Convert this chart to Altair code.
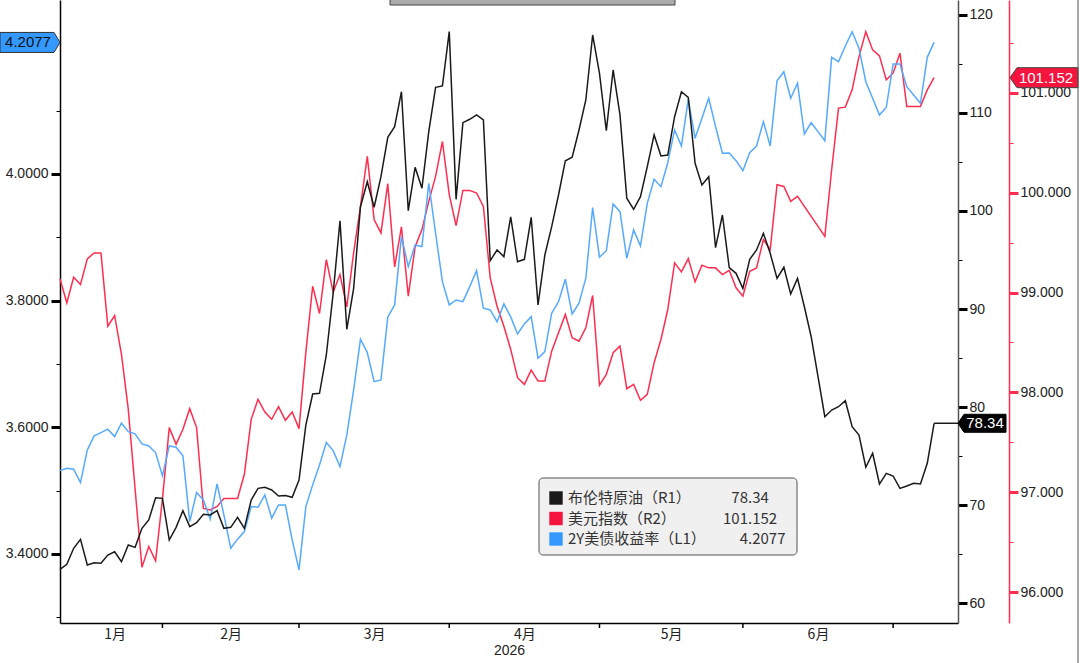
import altair as alt
import pandas as pd

# ---------------- data ----------------
brent = [63.44, 63.95, 65.58, 66.50, 63.88, 64.11, 64.05, 64.90, 65.23, 64.21,
         65.92, 65.68, 67.62, 68.47, 70.74, 70.68, 66.43, 67.72, 69.42, 67.79,
         68.19, 69.05, 68.98, 69.42, 67.62, 67.72, 68.74, 67.62, 70.51, 71.70,
         71.81, 71.53, 70.92, 70.97, 70.79, 72.55, 78.16, 81.33, 81.40, 85.31,
         91.60, 99.01, 87.93, 92.11, 100.44, 102.99, 100.38, 103.50, 107.52, 108.60,
         112.17, 100.03, 104.46, 102.32, 108.09, 112.62, 112.76, 118.30, 101.19, 109.01,
         109.36, 109.80, 109.29, 94.93, 96.02, 95.34, 99.39, 94.83, 95.07, 99.36,
         90.41, 95.51, 98.40, 101.63, 105.13, 105.48, 108.27, 111.33, 117.96, 114.05,
         108.19, 114.39, 109.80, 101.30, 100.17, 101.46, 104.52, 107.76, 105.61, 105.71,
         109.62, 112.17, 111.60, 104.87, 102.65, 103.50, 96.26, 99.59, 94.23, 93.64,
         92.11, 95.07, 96.02, 97.72, 95.68, 93.13, 94.26, 91.53, 93.13, 90.23,
         87.17, 83.09, 79.01, 79.69, 80.03, 80.64, 77.99, 77.14, 73.85, 75.28,
         72.14, 73.23, 72.96, 71.70, 71.94, 72.21, 72.14, 74.26, 78.34]

dxy = [99.137, 98.897, 99.153, 99.080, 99.337, 99.397, 99.397, 98.663, 98.770, 98.380,
       97.830, 97.030, 96.247, 96.457, 96.313, 96.930, 97.647, 97.480, 97.630, 97.837,
       97.647, 96.837, 96.823, 96.857, 96.937, 96.937, 96.937, 97.180, 97.730, 97.930,
       97.803, 97.730, 97.857, 97.720, 97.803, 97.637, 98.400, 99.063, 98.790, 99.330,
       99.003, 99.180, 98.857, 99.400, 99.863, 100.363, 99.730, 99.597, 100.090, 99.257,
       99.657, 98.963, 99.457, 99.630, 99.913, 100.163, 100.513, 99.980, 99.670, 100.023,
       100.023, 99.997, 99.863, 99.147, 98.863, 98.663, 98.430, 98.147, 98.080, 98.223,
       98.113, 98.113, 98.413, 98.597, 98.780, 98.547, 98.513, 98.647, 98.970, 98.073,
       98.180, 98.397, 98.463, 98.037, 98.080, 97.920, 97.980, 98.297, 98.530, 98.830,
       99.297, 99.207, 99.340, 99.107, 99.273, 99.247, 99.247, 99.180, 99.223, 99.047,
       98.963, 99.213, 99.247, 99.530, 99.430, 100.080, 100.063, 99.913, 99.963, 99.863,
       99.763, 99.663, 99.563, 100.230, 100.847, 100.857, 101.030, 101.363, 101.613, 101.430,
       101.370, 101.130, 101.197, 101.397, 100.863, 100.863, 100.863, 101.030, 101.152]

ust2y = [3.5316, 3.5354, 3.5339, 3.5127, 3.5643, 3.5864, 3.5916, 3.5970, 3.5853, 3.6065,
         3.5932, 3.5896, 3.5738, 3.5706, 3.5601, 3.5233, 3.5706, 3.5686, 3.5549, 3.4511,
         3.4969, 3.4854, 3.4549, 3.5107, 3.4617, 3.4092, 3.4234, 3.4354, 3.4748, 3.4739,
         3.4933, 3.4565, 3.4775, 3.4775, 3.4223, 3.3749, 3.4748, 3.5091, 3.5406, 3.5758,
         3.5632, 3.5380, 3.5880, 3.6590, 3.7391, 3.7179, 3.6721, 3.6748, 3.7738, 3.7932,
         3.9010, 3.8537, 3.8879, 3.8852, 3.9853, 3.9064, 3.8300, 3.7932, 3.8011, 3.7984,
         3.8221, 3.8474, 3.7880, 3.7853, 3.7668, 3.7948, 3.7743, 3.7474, 3.7632, 3.7747,
         3.7091, 3.7195, 3.7801, 3.7984, 3.8338, 3.7790, 3.7959, 3.8354, 3.9468, 3.8685,
         3.8789, 3.9526, 3.9405, 3.8669, 3.9116, 3.8863, 3.9537, 3.9916, 3.9800, 4.0178,
         4.0695, 4.0442, 4.1179, 4.0564, 4.0879, 4.1195, 4.0747, 4.0327, 4.0331, 4.0210,
         4.0052, 4.0336, 4.0442, 4.0826, 4.0442, 4.1473, 4.1615, 4.1195, 4.1432, 4.0631,
         4.0810, 4.0668, 4.0526, 4.1842, 4.1773, 4.2021, 4.2246, 4.1984, 4.1457, 4.1195,
         4.0931, 4.1053, 4.1736, 4.1736, 4.1378, 4.1247, 4.1116, 4.1842, 4.2077]

month_names = ["1月", "2月", "3月", "4月", "5月", "6月"]
month_label_at = [8, 25, 46, 68, 89.5, 111]      # trading-day index of label
month_start = [15, 35, 57, 79, 100, 122]          # first trading day of each month
year_label = "2026"

series_names = ["布伦特原油（R1）", "美元指数（R2）", "2Y美债收益率（L1）"]
last_labels = ["78.34", "101.152", "4.2077"]

blue_ticks = [3.3, 3.4, 3.5, 3.6, 3.7, 3.8, 3.9, 4.0, 4.1]
black_ticks = [60, 65, 70, 75, 80, 85, 90, 95, 100, 105, 110, 115, 120]
red_ticks = [96.0, 96.5, 97.0, 97.5, 98.0, 98.5, 99.0, 99.5, 100.0, 100.5, 101.0, 101.5]

# ---------------- styling / layout ----------------
NUM = "Liberation Sans"
CJK = "Noto Sans CJK SC"
W, H = 898, 623
X_MAX = 131.5
BLACK, RED, BLUE = "#1a1a1a", "#ff2d50", "#55aaff"
RED_TAG, BLUE_TAG = "#f5143e", "#3399ff"
TXT = "#222222"

x_scale = alt.Scale(domain=[0, X_MAX], nice=False, zero=False)
label_expr_x = ("[" + ",".join(f"'{m}'" for m in month_names) + "][indexof(["
                + ",".join(str(v) for v in month_label_at) + "], datum.value)]")
x_axis = alt.Axis(values=month_label_at, labelExpr=label_expr_x, ticks=False,
                  domainColor="#000", domainWidth=1.5, labelFont=CJK, labelFontSize=14,
                  labelColor=TXT, labelPadding=4, title=year_label, titleFont=NUM,
                  titleFontSize=14, titleFontWeight="normal", titleColor=TXT,
                  titlePadding=2, grid=False, labelOverlap=False, labelFlush=False)


def X(field):
    return alt.X(field, type="quantitative", scale=x_scale, axis=x_axis)


def cond(test, a, b):
    return {"condition": {"test": test, "value": a}, "value": b}


def make_axis(orient, values, major, fmt, color, domain_color, offset=0, pad=2):
    return alt.Axis(orient=orient, values=values, offset=offset,
                    labelExpr=f"({major}) ? format(datum.value, '{fmt}') : ''",
                    tickSize=cond(major, 9, 4), tickWidth=cond(major, 3, 1),
                    tickColor=color, domainColor=domain_color, domainWidth=1.5,
                    labelFont=NUM, labelFontSize=14, labelColor=TXT, labelPadding=pad,
                    grid=False, title=None, labelOverlap=False, labelFlush=False)


blue_axis = make_axis("left", blue_ticks, "round(datum.value*10) % 2 == 0", ".4f", "#000", "#000", pad=3)
black_axis = make_axis("right", black_ticks, "datum.value % 10 == 0", "d", "#000", "#555")
red_axis = make_axis("right", red_ticks, "datum.value % 1 == 0", ".3f", RED, RED, offset=51)


def Y(domain, axis):
    return alt.Y("v:Q", scale=alt.Scale(domain=domain, nice=False, zero=False), axis=axis)


def group(values, color, y, tag_path, tag_size, tag_x, tag_fill, tag_stroke,
          text_color, label, text_x, extra=None):
    df = pd.DataFrame({"i": list(range(len(values))), "v": values})
    line = alt.Chart(df).mark_line(color=color, strokeWidth=1.5).encode(x=X("i"), y=y)
    last = pd.DataFrame({"v": [values[-1]], "t": [label]})
    tag = alt.Chart(last).mark_point(shape=tag_path, size=tag_size, filled=True,
                                     fill=tag_fill, stroke=tag_stroke, strokeWidth=1,
                                     opacity=1).encode(x=alt.value(tag_x), y=y)
    txt = alt.Chart(last).mark_text(font=NUM, fontSize=15, color=text_color,
                                    align="center", baseline="middle").encode(
        x=alt.value(text_x), y=y, text="t:N")
    layers = [line] + ([extra] if extra is not None else []) + [tag, txt]
    return alt.layer(*layers)


y_black = Y([57.96, 121.53], black_axis)
y_red = Y([95.69, 101.93], red_axis)
y_blue = Y([3.291, 4.2747], blue_axis)

leader_df = pd.DataFrame({"i": [len(brent) - 1], "i2": [X_MAX], "v": [brent[-1]]})
leader = alt.Chart(leader_df).mark_rule(color=BLACK, strokeWidth=1.5).encode(
    x=X("i"), x2="i2", y=y_black)

g_red = group(dxy, RED, y_red,
              "M1,-0.294L-0.794,-0.294L-1,0L-0.794,0.294L1,0.294Z", 4624, 984,
              RED_TAG, "#444", "white", last_labels[1], 986)
g_blue = group(ust2y, BLUE, y_blue,
               "M-1,-0.333L0.8,-0.333L1,0L0.8,0.333L-1,0.333Z", 3600, -30,
               BLUE_TAG, "#333", "#111", last_labels[2], -32)
g_black = group(brent, BLACK, y_black,
                "M1,-0.375L-0.75,-0.375L-1,0L-0.75,0.375L1,0.375Z", 2304, 922,
                "#000", "#000", "white", last_labels[0], 925, extra=leader)

# month boundary ticks
mticks = alt.Chart(pd.DataFrame({"m": month_start})).mark_rule(
    color="#000", strokeWidth=1.5).encode(x=X("m"), y=alt.value(H), y2=alt.value(H + 5))

one = pd.DataFrame({"a": [0]})
deco = []
# legend box
deco.append(alt.Chart(one).mark_rect(fill="#f0f0f0", stroke="#555", strokeWidth=1,
                                     cornerRadius=4).encode(
    x=alt.value(479), x2=alt.value(737), y=alt.value(478), y2=alt.value(555)))
legend_colors = [BLACK, RED_TAG, BLUE_TAG]
for k in range(3):
    yk = 498 + 20.5 * k
    deco.append(alt.Chart(one).mark_square(size=180, color=legend_colors[k], opacity=1)
                .encode(x=alt.value(496), y=alt.value(yk)))
    deco.append(alt.Chart(one).mark_text(text=series_names[k], font=CJK, fontSize=15,
                                         color="#333", align="left", baseline="middle")
                .encode(x=alt.value(508), y=alt.value(yk)))
    ip, fp = last_labels[k].split(".")
    deco.append(alt.Chart(one).mark_text(text=ip, font=CJK, fontSize=15, color="#333",
                                         align="right", baseline="middle")
                .encode(x=alt.value(688), y=alt.value(yk)))
    deco.append(alt.Chart(one).mark_text(text="." + fp, font=CJK, fontSize=15, color="#333",
                                         align="left", baseline="middle")
                .encode(x=alt.value(688), y=alt.value(yk)))
# top toolbar remnant and right frame line
deco.append(alt.Chart(one).mark_rect(fill="#ababab", stroke="#444", strokeWidth=1).encode(
    x=alt.value(330), x2=alt.value(615), y=alt.value(-3), y2=alt.value(5)))
deco.append(alt.Chart(one).mark_rule(color="#555", strokeWidth=1).encode(
    x=alt.value(1018), y=alt.value(0), y2=alt.value(H + 40)))

chart = alt.layer(g_red, g_blue, g_black, mticks, *deco).resolve_scale(
    y="independent").resolve_axis(y="independent").properties(
    width=W, height=H, autosize="none",
    padding={"left": 60, "top": 0, "right": 122, "bottom": 40},
    background="white").configure_view(stroke=None)

chart.save("out.html", embed_options={"renderer": "svg", "actions": False})
